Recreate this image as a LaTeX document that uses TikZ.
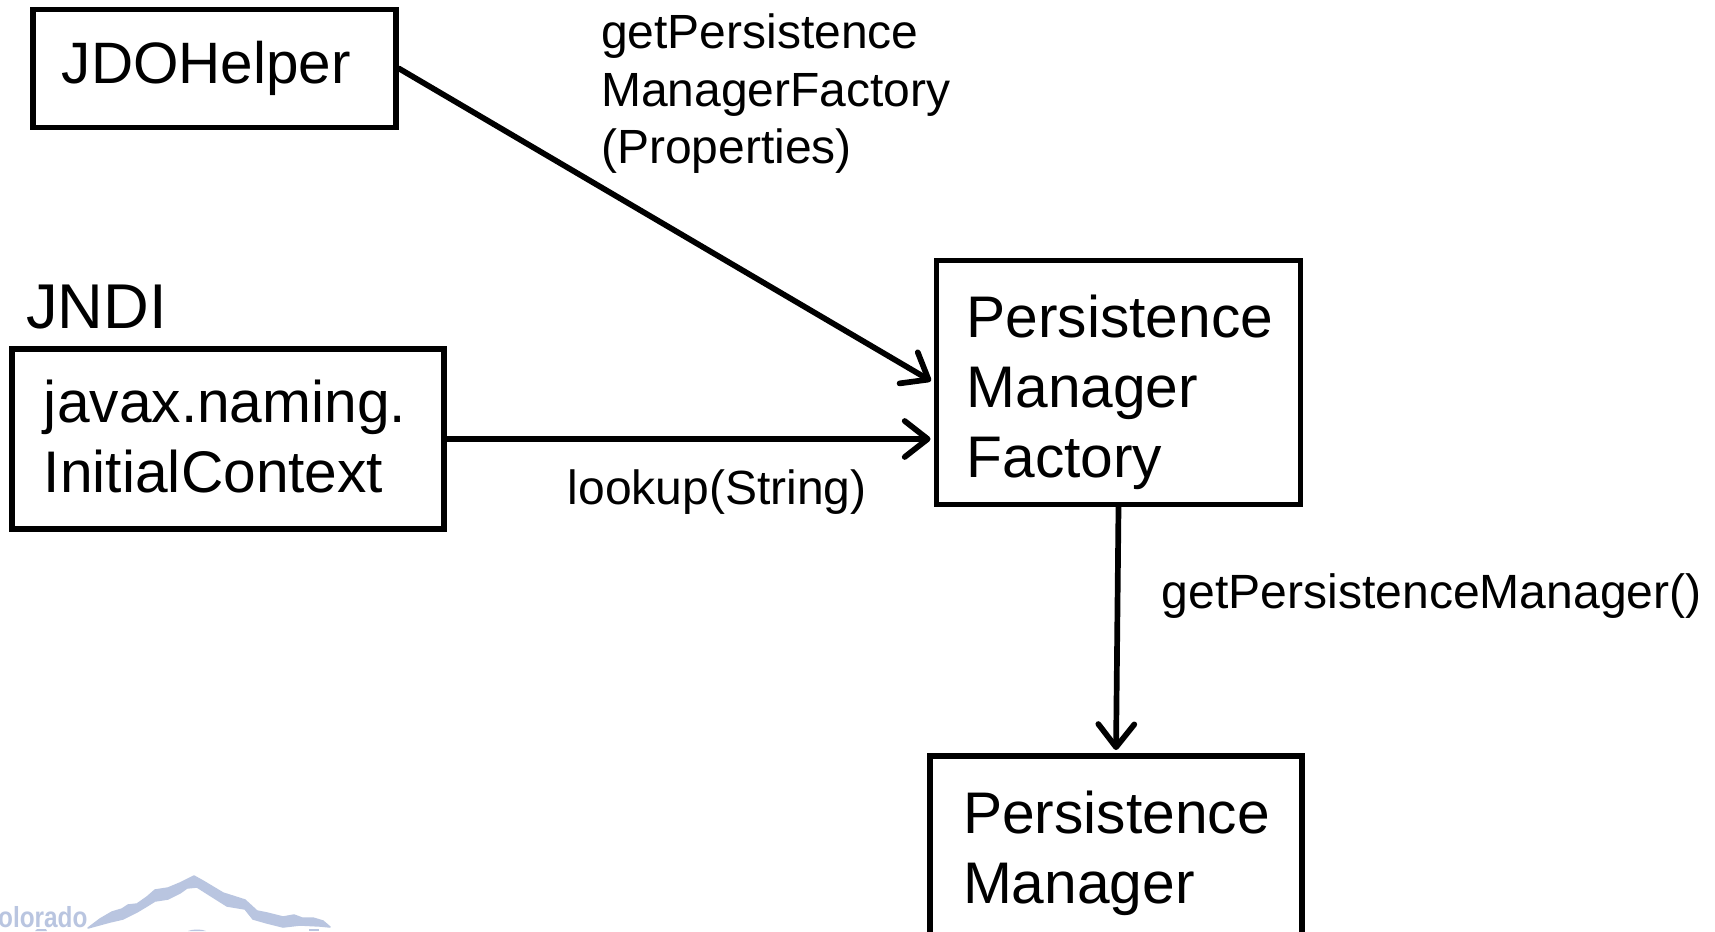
\documentclass[tikz,border=0pt]{standalone}
\usepackage{fontspec}
\setmainfont{Liberation Sans}
\usetikzlibrary{arrows.meta,calc}
\definecolor{logoblue}{HTML}{B9C5E0}
\tikzset{
  boxnode/.style={draw=black,line width=5.9bp,rectangle,inner sep=0pt,align=left,anchor=center,font=\fontsize{58.7bp}{70bp}\selectfont},
  labeltext/.style={inner sep=0pt,align=left,font=\fontsize{48bp}{57.5bp}\selectfont},
  conn/.style={line width=5.7bp,line cap=round,-{Straight Barb[length=23bp,width=36bp,line width=5.7bp,round]},shorten >=3bp},
  logo/.style={fill=logoblue,draw=logoblue,line width=1.5bp,line join=round}
}
\begin{document}
\begin{tikzpicture}[x=1bp,y=-1bp]
\useasboundingbox (0,0) rectangle (1715,931);
\clip (0,0) rectangle (1715,931);
\fill[white] (0,0) rectangle (1715,931);
% logo
\path[logo] (88,928) -- (100,919) -- (112,912) -- (122,909) -- (128,905) -- (137,904) -- (147,897) -- (155,890) -- (168,888) -- (180,883) -- (194,876) -- (203,881) -- (223,893) -- (245,900) -- (257,911) -- (267,913) -- (283,917) -- (294,915) -- (302,918) -- (313,918) -- (323,921) -- (330,927) -- (320,926) -- (300,925) -- (283,927) -- (267,923) -- (253,919) -- (245,909) -- (227,906) -- (208,894) -- (197,887) -- (187,888) -- (180,893) -- (168,899) -- (155,901) -- (147,906) -- (137,912) -- (123,919) -- (110,922) -- cycle;
\fill[logoblue] (35,931) -- (37,929) -- (46,929) -- (47,931) -- cycle;
\fill[logoblue] (188,931) .. controls (192,929) and (202,929) .. (206,931) -- cycle;
\fill[logoblue] (309,931) -- (309,929) -- (319,929) -- (319,931) -- cycle;
\node[anchor=base west,inner sep=0pt,text=logoblue,xscale=0.84,font=\bfseries\fontsize{29bp}{29bp}\selectfont] (logotext) at (-2,927) {olorado};
% boxes
\node[boxnode,font=\fontsize{58.4bp}{70bp}\selectfont,minimum width=363bp,minimum height=118bp,text width=305bp] (jdo) at (214.5,68.5) {JDOHelper};
\node[boxnode,minimum width=432bp,minimum height=180bp,text width=368bp] (ctx) at (228,439) {javax.naming.\\InitialContext\rule[-6.5bp]{0pt}{6.5bp}};
\node[boxnode,minimum width=364bp,minimum height=244bp,text width=304bp] (pmf) at (1118.5,382.5) {\rule{0pt}{62bp}Persistence\\Manager\\Factory};
\node[boxnode,minimum width=372bp,minimum height=200bp,text width=306bp] (pm) at (1116,856) {Persistence\\Manager\rule[-17bp]{0pt}{17bp}};
% labels
\node[anchor=base west,inner sep=0pt,font=\fontsize{63.3bp}{63.3bp}\selectfont] (jndi) at (26,328) {JNDI};
\node[labeltext,anchor=west] (l1) at (601,94) {getPersistence\\ManagerFactory\\(Properties)};
\node[labeltext,anchor=base west] (l2) at (567.5,504) {lookup(String)};
\node[labeltext,font=\fontsize{48.1bp}{57.5bp}\selectfont,anchor=base west] (l3) at (1161.5,608) {getPersistenceManager()};
% connectors
\draw[conn] (jdo.east) -- (pmf.west);
\coordinate (t2) at (pmf.west |- ctx.east);
\draw[conn] (ctx.east) -- (t2);
\draw[conn] (pmf.south) -- (pm.north);
\end{tikzpicture}
\end{document}
